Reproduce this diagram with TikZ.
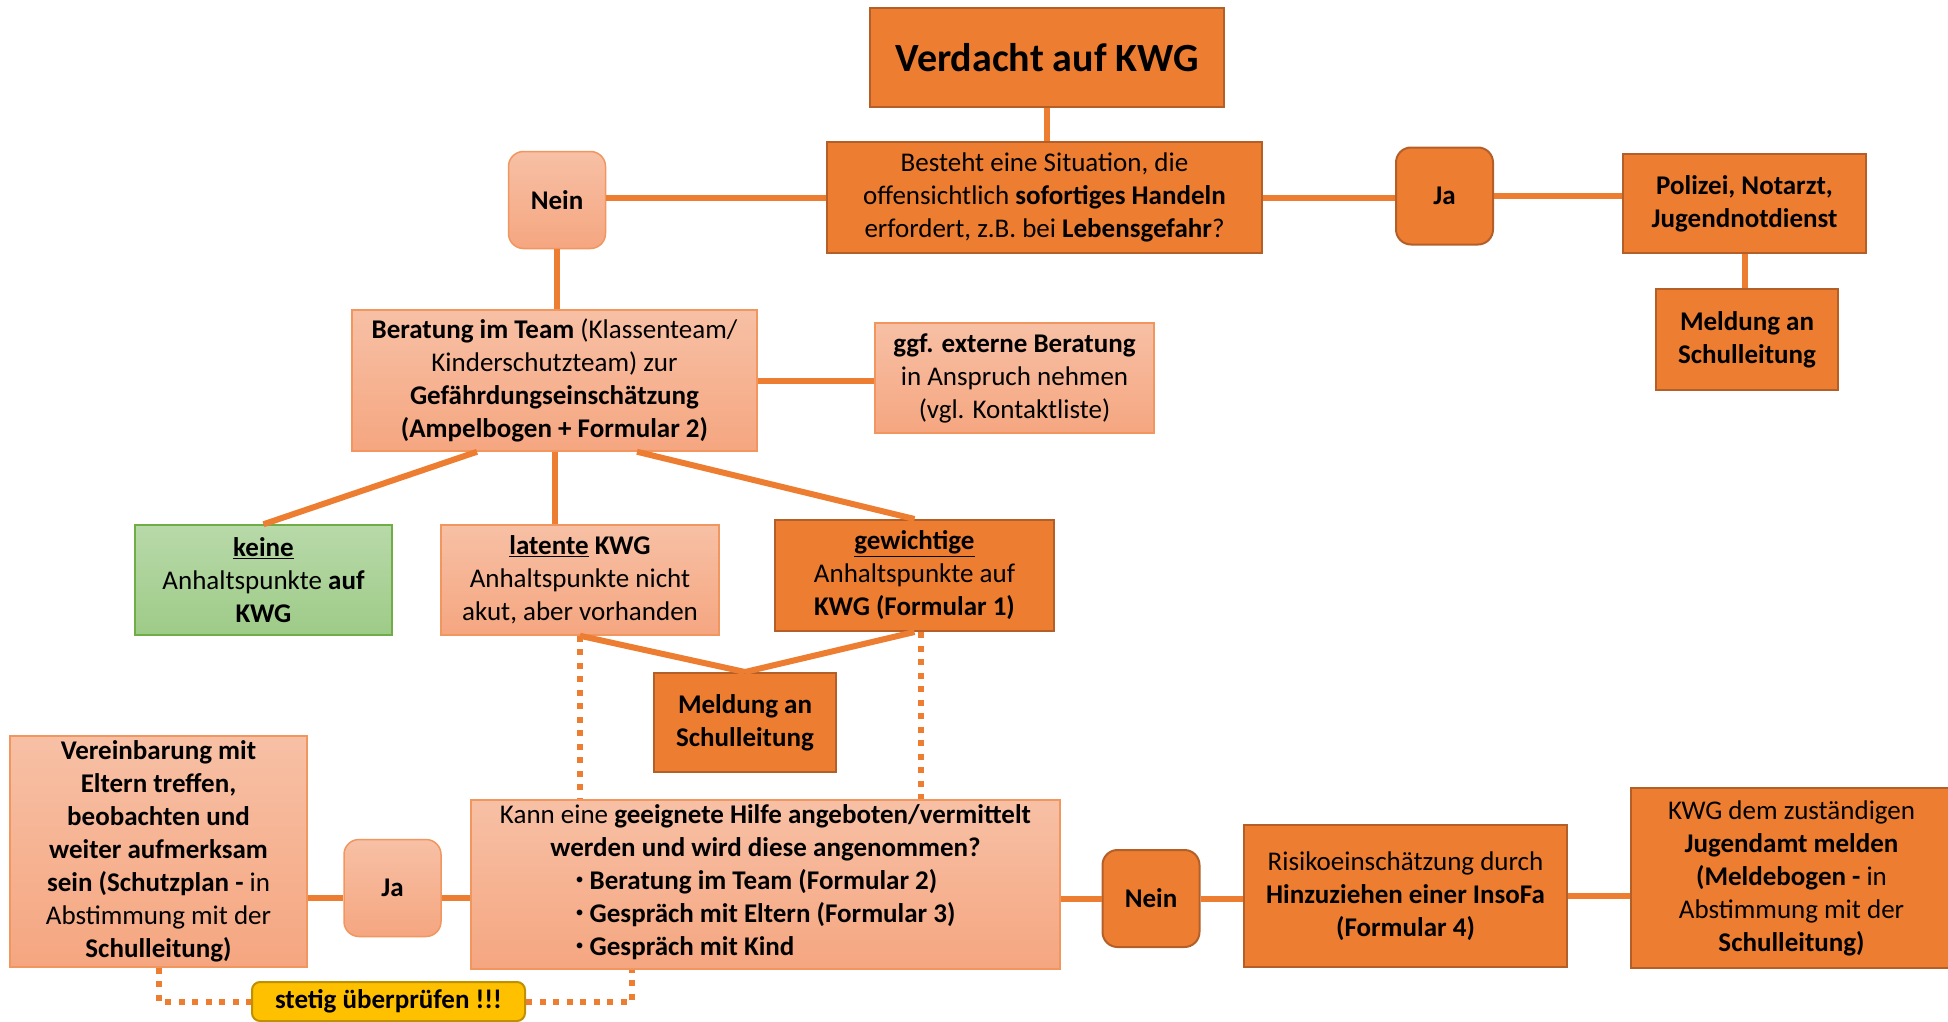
\documentclass[tikz,border=0pt]{standalone}
\usepackage{fontspec}
\setmainfont{Carlito}

\definecolor{kwgorange}{RGB}{237,125,49}
\definecolor{kwgedge}{RGB}{180,95,40}
\definecolor{kwglighttop}{RGB}{247,192,165}
\definecolor{kwglightbot}{RGB}{245,166,128}
\definecolor{kwglightedge}{RGB}{242,150,95}
\definecolor{kwggreentop}{RGB}{184,217,169}
\definecolor{kwggreenbot}{RGB}{158,203,136}
\definecolor{kwggreenedge}{RGB}{112,173,71}
\definecolor{kwgyellow}{RGB}{255,192,0}
\definecolor{kwgyellowedge}{RGB}{191,144,0}

\newcommand{\kwgitem}{\raisebox{0.35ex}{\scalebox{0.6}{\textbullet}}\ }

\tikzset{
  box/.style={rectangle, inner sep=0pt, align=center, font=\fontsize{27}{33}\selectfont},
  darkbox/.style={box, fill=kwgorange, draw=kwgedge, line width=2pt},
  lightbox/.style={box, top color=kwglighttop, bottom color=kwglightbot, draw=kwglightedge, line width=1.5pt},
  greenbox/.style={box, top color=kwggreentop, bottom color=kwggreenbot, draw=kwggreenedge, line width=1.5pt},
  answer/.style={rounded corners=15pt, minimum width=97pt, minimum height=97pt},
  link/.style={draw=kwgorange, line width=6pt},
  dotlink/.style={link, dash pattern=on 6pt off 7.5pt}
}

\begin{document}
\begin{tikzpicture}[x=1pt, y=-1pt]
        \useasboundingbox (0,0) rectangle (1948,1022);

        % Start and first question
        \node[darkbox, minimum width=354pt, minimum height=99pt, font=\fontsize{40}{48}\selectfont\bfseries] (verdacht) at (1047,57.5) {Verdacht auf KWG};
        \node[darkbox, minimum width=435pt, minimum height=111pt] (situation) at (1044.5,197.5) {Besteht eine Situation, die\\ offensichtlich \textbf{sofortiges Handeln}\\ erfordert, z.B. bei \textbf{Lebensgefahr}?};
        \node[lightbox, answer] (nein1) at (557,200) {\textbf{Nein}};
        \node[darkbox, answer] (ja1) at (1444.5,196) {\textbf{Ja}};
        \node[darkbox, minimum width=243pt, minimum height=99pt] (notruf) at (1744.5,203.5) {\textbf{Polizei, Notarzt,}\\ \textbf{Jugendnotdienst}};
        \node[darkbox, minimum width=182pt, minimum height=101pt] (meldungR) at (1747,339.5) {\textbf{Meldung an}\\ \textbf{Schulleitung}};

        % Beratung
        \node[lightbox, minimum width=405pt, minimum height=141pt] (beratung) at (554.5,380.5) {\textbf{Beratung im Team} (Klassenteam/\\ Kinderschutzteam) zur\\ \textbf{Gefährdungseinschätzung}\\ \textbf{(Ampelbogen + Formular 2)}};
        \node[lightbox, minimum width=279pt, minimum height=110pt] (extern) at (1014.5,378) {\textbf{ggf. externe Beratung}\\ in Anspruch nehmen\\ (vgl. Kontaktliste)};

        % Einschaetzung
        \node[greenbox, minimum width=257pt, minimum height=110pt] (keine) at (263.5,580) {\underline{\textbf{keine}}\\ Anhaltspunkte \textbf{auf}\\ \textbf{KWG}};
        \node[lightbox, minimum width=278pt, minimum height=110pt] (latent) at (580,580) {\underline{\textbf{latente}} \textbf{KWG}\\ Anhaltspunkte nicht\\ akut, aber vorhanden};
        \node[darkbox, minimum width=279pt, minimum height=111pt] (gewichtig) at (914.5,575.5) {\underline{\textbf{gewichtige}}\\ Anhaltspunkte auf\\ \textbf{KWG (Formular 1)}};
        \node[darkbox, minimum width=182pt, minimum height=99pt] (meldungM) at (745,722.5) {\textbf{Meldung an}\\ \textbf{Schulleitung}};

        % Hilfe
        \node[lightbox, minimum width=297pt, minimum height=231pt] (vereinbarung) at (158.5,851.5) {\textbf{Vereinbarung mit}\\ \textbf{Eltern treffen,}\\ \textbf{beobachten und}\\ \textbf{weiter aufmerksam}\\ \textbf{sein (Schutzplan -} in\\ Abstimmung mit der\\ \textbf{Schulleitung)}};
        \node[lightbox, answer] (ja2) at (392.5,888) {\textbf{Ja}};
        \node[lightbox, minimum width=589pt, minimum height=169pt] (hilfe) at (765.5,884.5) {Kann eine \textbf{geeignete Hilfe angeboten/vermittelt}\\ \textbf{werden und wird diese angenommen?}\\ \begin{tabular}[t]{@{}l@{}}\kwgitem\textbf{Beratung im Team (Formular 2)}\\ \kwgitem\textbf{Gespräch mit Eltern (Formular 3)}\\ \kwgitem\textbf{Gespräch mit Kind}\end{tabular}};
        \node[darkbox, answer] (nein2) at (1151,898.5) {\textbf{Nein}};
        \node[darkbox, minimum width=323pt, minimum height=142pt] (insofa) at (1405.5,896) {Risikoeinschätzung durch\\ \textbf{Hinzuziehen einer InsoFa}\\ \textbf{(Formular 4)}};
        \node[darkbox, minimum width=321pt, minimum height=180pt] (jugendamt) at (1791.5,878) {KWG dem zuständigen\\ \textbf{Jugendamt melden}\\ \textbf{(Meldebogen -} in\\ Abstimmung mit der\\ \textbf{Schulleitung)}};
        \node[box, fill=kwgyellow, draw=kwgyellowedge, line width=2pt, rounded corners=8pt, minimum width=273pt, minimum height=39pt] (pruefen) at (388.5,1001.5) {\textbf{stetig überprüfen !!!}};

        % Solid connectors
        \draw[link] (verdacht.south) -- (verdacht.south |- situation.north);
        \draw[link] (situation.west) -- (situation.west -| nein1.east);
        \draw[link] (situation.east) -- (situation.east -| ja1.west);
        \draw[link] (ja1.east) -- (ja1.east -| notruf.west);
        \draw[link] (notruf.south) -- (notruf.south |- meldungR.north);
        \draw[link] (nein1.south) -- (nein1.south |- beratung.north);
        \draw[link] (beratung.east) -- (beratung.east -| extern.west);
        \draw[link] ([xshift=-77.5pt]beratung.south) -- (keine.north);
        \draw[link] (beratung.south) -- (beratung.south |- latent.north);
        \draw[link] ([xshift=82.5pt]beratung.south) -- (gewichtig.north);
        \draw[link] (latent.south) -- (meldungM.north);
        \draw[link] (gewichtig.south) -- (meldungM.north);
        \draw[link] ([yshift=-10pt]ja2.west) -- ([yshift=-10pt]ja2.west -| vereinbarung.east);
        \draw[link] ([yshift=-10pt]ja2.east) -- ([yshift=-10pt]ja2.east -| hilfe.west);
        \draw[link] (nein2.west) -- (nein2.west -| hilfe.east);
        \draw[link] (nein2.east) -- (nein2.east -| insofa.west);
        \draw[link] (insofa.east) -- (insofa.east -| jugendamt.west);

        % Dotted connectors
        \draw[dotlink] (latent.south) -- (latent.south |- hilfe.north);
        \draw[dotlink] ([xshift=6pt]gewichtig.south) -- ([xshift=6pt]gewichtig.south |- hilfe.north);
        \draw[dotlink] (vereinbarung.south) |- (pruefen.west);
        \draw[dotlink] (pruefen.east) -| ([xshift=-133.5pt]hilfe.south);

    \end{tikzpicture}
\end{document}
